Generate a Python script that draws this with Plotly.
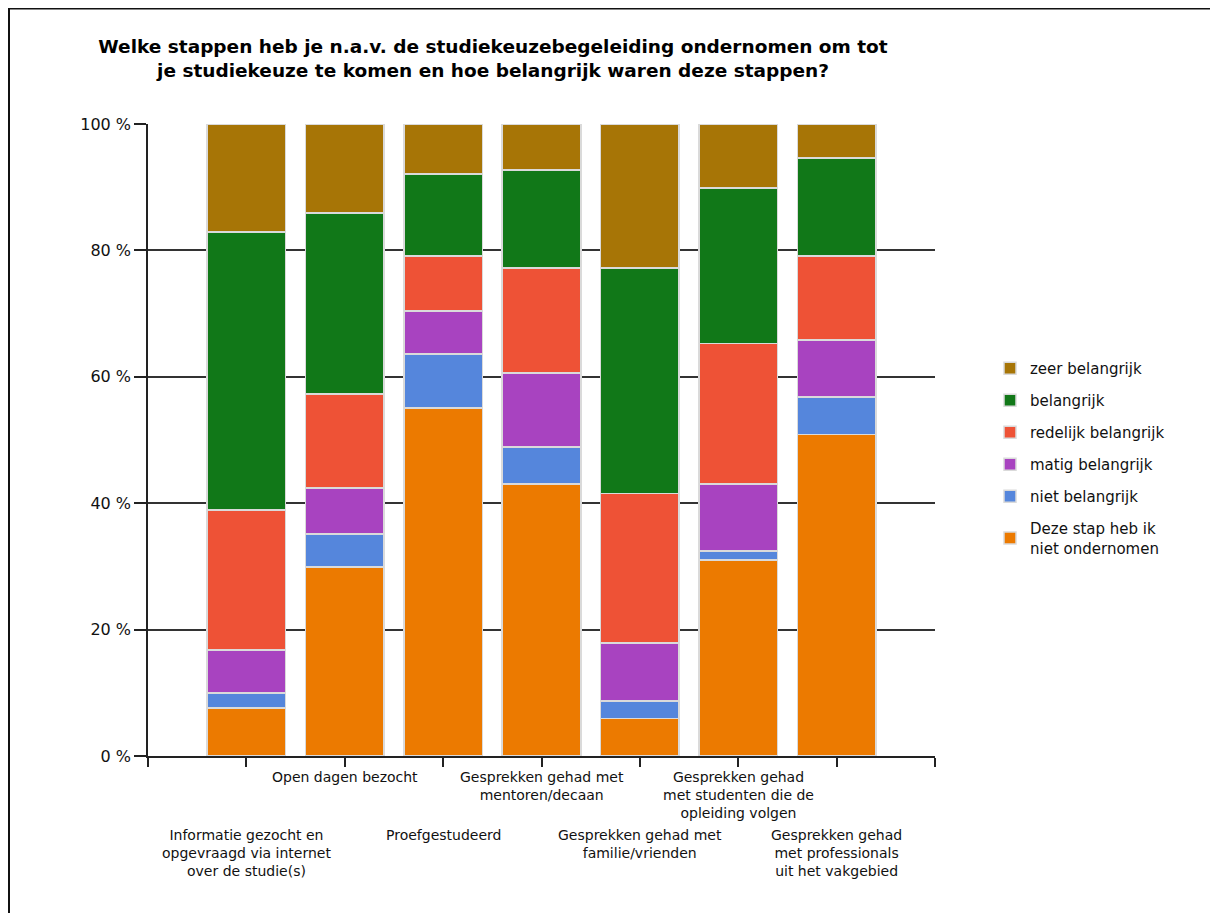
import plotly.graph_objects as go

categories = [
    "Informatie gezocht en<br>opgevraagd via internet<br>over de studie(s)",
    "Open dagen bezocht",
    "Proefgestudeerd",
    "Gesprekken gehad met<br>mentoren/decaan",
    "Gesprekken gehad met<br>familie/vrienden",
    "Gesprekken gehad<br>met studenten die de<br>opleiding volgen",
    "Gesprekken gehad<br>met professionals<br>uit het vakgebied",
]

niet_ondernomen = [7.6, 29.9, 55.1, 43.0, 5.9, 31.0, 50.9]
niet_belangrijk = [2.4, 5.2, 8.5, 5.9, 2.8, 1.4, 5.9]
matig_belangrijk = [6.8, 7.3, 6.8, 11.7, 9.2, 10.6, 9.0]
redelijk_belangrijk = [22.1, 14.9, 8.7, 16.6, 23.6, 22.3, 13.3]
belangrijk = [44.0, 28.6, 13.0, 15.5, 35.7, 24.6, 15.5]
zeer_belangrijk = [17.1, 14.1, 7.9, 7.3, 22.8, 10.1, 5.4]

series_names = [
    "Deze stap heb ik<br>niet ondernomen",
    "niet belangrijk",
    "matig belangrijk",
    "redelijk belangrijk",
    "belangrijk",
    "zeer belangrijk",
]
series_values = [niet_ondernomen, niet_belangrijk, matig_belangrijk,
                 redelijk_belangrijk, belangrijk, zeer_belangrijk]
series_colors = ["#EC7A00", "#5586DC", "#A843C0", "#EE5236", "#117818", "#A77506"]

y_tick_values = [0, 20, 40, 60, 80, 100]
y_tick_labels = ["0 %", "20 %", "40 %", "60 %", "80 %", "100 %"]

title_text = ("Welke stappen heb je n.a.v. de studiekeuzebegeleiding ondernomen om tot"
              "<br>je studiekeuze te komen en hoe belangrijk waren deze stappen?")

x_pos = list(range(1, len(categories) + 1))

# page has an 8px body margin: figure origin sits at page (8, 8)
OFF = 8
W, H = 1218 - OFF, 913 - OFF
PL, PT, PW, PH = 148 - OFF, 124 - OFF, 787, 632

fig = go.Figure()
n = len(series_names)
for i, (name, vals, col) in enumerate(zip(series_names, series_values, series_colors)):
    fig.add_trace(go.Bar(
        x=x_pos, y=vals, name=name, legendgroup=f"g{i}", legendrank=n - i,
        marker=dict(color=col, line=dict(color="#DADADA", width=1.5)),
        width=0.8, hoverinfo="skip",
    ))

FONT = "DejaVu Sans"

annotations = []
for i, (xp, lab) in enumerate(zip(x_pos, categories)):
    upper = (i % 2 == 1)
    top_px = 767 if upper else 825
    annotations.append(dict(
        x=xp, xref="x", y=-(top_px - 756) / PH, yref="paper",
        text=lab, showarrow=False, xanchor="center", yanchor="top",
        align="center", font=dict(family=FONT, size=14, color="#111"),
    ))

fig.update_layout(
    width=W, height=H,
    margin=dict(l=PL, r=W - PL - PW, t=PT, b=H - PT - PH),
    paper_bgcolor="white", plot_bgcolor="white",
    barmode="stack",
    title=dict(
        text=title_text,
        x=(493 - OFF) / W, xanchor="center", xref="container",
        y=1 - (53 - OFF) / H, yanchor="top", yref="container",
        font=dict(family="DejaVu Sans", size=18.5, color="black", weight="bold"),
    ),
    xaxis=dict(
        range=[0, 8], tickvals=list(range(0, 9)), showticklabels=False,
        ticks="outside", ticklen=9, tickwidth=1.5, tickcolor="#222",
        showline=True, linecolor="#222", linewidth=1.5,
        showgrid=False, zeroline=False, fixedrange=True,
    ),
    yaxis=dict(
        range=[0, 100], tickmode="array", tickvals=y_tick_values, ticktext=y_tick_labels,
        ticks="outside", ticklen=12, tickwidth=1.5, tickcolor="#222",
        showline=True, linecolor="#222", linewidth=1.5,
        showgrid=True, gridcolor="#333", gridwidth=1.5, zeroline=False,
        tickfont=dict(family=FONT, size=16, color="#111"),
    ),
    legend=dict(
        x=(990 - 148) / PW, xanchor="left",
        y=(756 - 352) / PH, yanchor="top",
        traceorder="grouped", tracegroupgap=9.5,
        font=dict(family=FONT, size=15, color="#111"),
        bgcolor="rgba(0,0,0,0)",
    ),
    annotations=annotations,
    shapes=[dict(
        type="rect", xref="paper", yref="paper",
        x0=(9 - 148) / PW, x1=2.0, y0=-1.0, y1=(PT - 0.5) / PH + 1.0,
        line=dict(color="#111", width=2), fillcolor="rgba(0,0,0,0)",
        layer="below",
    )],
    showlegend=True,
)

fig.write_html("out.html")
